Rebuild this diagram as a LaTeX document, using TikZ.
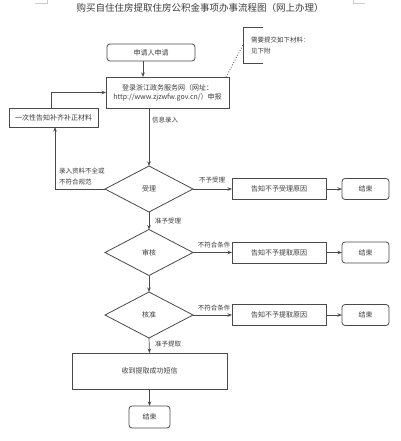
\documentclass[tikz,border=0pt]{standalone}
\usepackage{fontspec}
\setmainfont{Noto Sans CJK SC}
\usepackage{xcolor}
\definecolor{ink}{HTML}{3C3C3C}
\definecolor{edgeline}{HTML}{4A4A4A}
\usepackage{tikz}
\usetikzlibrary{positioning}
\usetikzlibrary{arrows.meta,shapes.geometric}
\tikzset{
  process/.style={draw=edgeline,line width=0.8pt,minimum height=21pt,inner sep=1pt,outer sep=0pt,text=ink,font=\fontsize{7}{9}\selectfont},
  terminal/.style={process,rounded corners=3pt,minimum width=47pt},
  decision/.style={diamond,draw=edgeline,line width=0.8pt,inner sep=0pt,outer sep=0pt,minimum width=88pt,minimum height=46pt,text=ink,font=\fontsize{7}{9}\selectfont},
  lbl/.style={inner sep=0pt,outer sep=0pt,text=ink,font=\fontsize{6.5}{11}\selectfont},
  flow/.style={draw=edgeline,line width=0.7pt}
}
\begin{document}
\begin{tikzpicture}[x=1pt,y=-1pt,>={Stealth[length=4.5pt,width=3.5pt]}]
	\useasboundingbox[fill=white] (0,0) rectangle (400,441);
	% corner marks
	\draw[gray!40,line width=0.5pt] (35,3) -- (47,3) -- (47,0);
	\draw[gray!40,line width=0.5pt] (353,0) -- (353,3) -- (365,3);
	\node (title) at (200,8) [text=ink,font=\fontsize{9.5}{11}\selectfont] {购买自住住房提取住房公积金事项办事流程图（网上办理）};
	% main column
	\node (apply) [terminal,minimum width=88pt,minimum height=17pt] at (151,52.5) {申请人申请};
	\node (login) [process,align=center,minimum width=123pt,minimum height=31pt,below=16pt of apply,xshift=16.5pt] {登录浙江政务服务网（网址：\\http://www.zjzwfw.gov.cn/）申报};
	\node (supp) [process,minimum width=89pt,minimum height=19pt] at (53.5,117.5) {一次性告知补齐补正材料};
	\node (accept) [decision] at (149,189) {受理};
	\node (reject1) [process,minimum width=94pt,right=39pt of accept] {告知不予受理原因};
	\node (end1) [terminal,right=16pt of reject1] {结束};
	\node (audit) [decision] at (149,252.5) {审核};
	\node (reject2) [process,minimum width=94pt,right=39pt of audit] {告知不予提取原因};
	\node (end2) [terminal,right=16pt of reject2] {结束};
	\node (approve) [decision] at (149,315) {核准};
	\node (reject3) [process,minimum width=94pt,right=39pt of approve] {告知不予提取原因};
	\node (end3) [terminal,right=16pt of reject3] {结束};
	\node (sms) [process,minimum width=155pt,minimum height=36pt] at (149.5,371) {收到提取成功短信};
	\node (end4) [terminal,minimum width=41pt,minimum height=22pt,below=17pt of sms] {结束};
	% note on materials
	\coordinate (brace) at (243,45);
	\draw[flow] (263,27) -- (243,27) -- (243,63) -- (263,63);
	\node (note) [lbl,anchor=west,align=left] at (251,46) {需要提交如下材料：\\见下附};
	\draw[flow,dotted,line width=0.9pt] ([xshift=-3pt]login.north east) -- (brace);
	% connectors
	\draw[flow,->] ([xshift=-8pt]apply.south) -- ([xshift=-8pt]apply.south |- login.north);
	\draw[flow,->] (login.south -| accept) -- (accept.north);
	\draw[flow,->] (accept.west) -| ([xshift=1.5pt]supp.south);
	\draw[flow,->] ([xshift=-2.5pt]supp.north) |- (login.west);
	\draw[flow,->] (accept.east) -- (reject1.west);
	\draw[flow,->] (reject1.east) -- (end1.west);
	\draw[flow,->] (accept.south) -- (audit.north);
	\draw[flow,->] (audit.east) -- (reject2.west);
	\draw[flow,->] (reject2.east) -- (end2.west);
	\draw[flow,->] (audit.south) -- (approve.north);
	\draw[flow,->] (approve.east) -- (reject3.west);
	\draw[flow,->] (reject3.east) -- (end3.west);
	\draw[flow,->] (approve.south) -- (sms.north);
	\draw[flow,->] (sms.south -| end4) -- (end4.north);
	% labels
	\node (l1) [lbl,anchor=west] at (152,120) {信息录入};
	\node (l2) [lbl,anchor=west,align=left] at (59,176.5) {录入资料不全或\\不符合规范};
	\node (l3) [lbl] at (212,180) {不予受理};
	\node (l4) [lbl,anchor=west] at (155,221) {准予受理};
	\node (l5) [lbl] at (214,245) {不符合条件};
	\node (l6) [lbl] at (214,308) {不符合条件};
	\node (l7) [lbl,anchor=west] at (155,344) {准予提取};
\end{tikzpicture}
\end{document}
